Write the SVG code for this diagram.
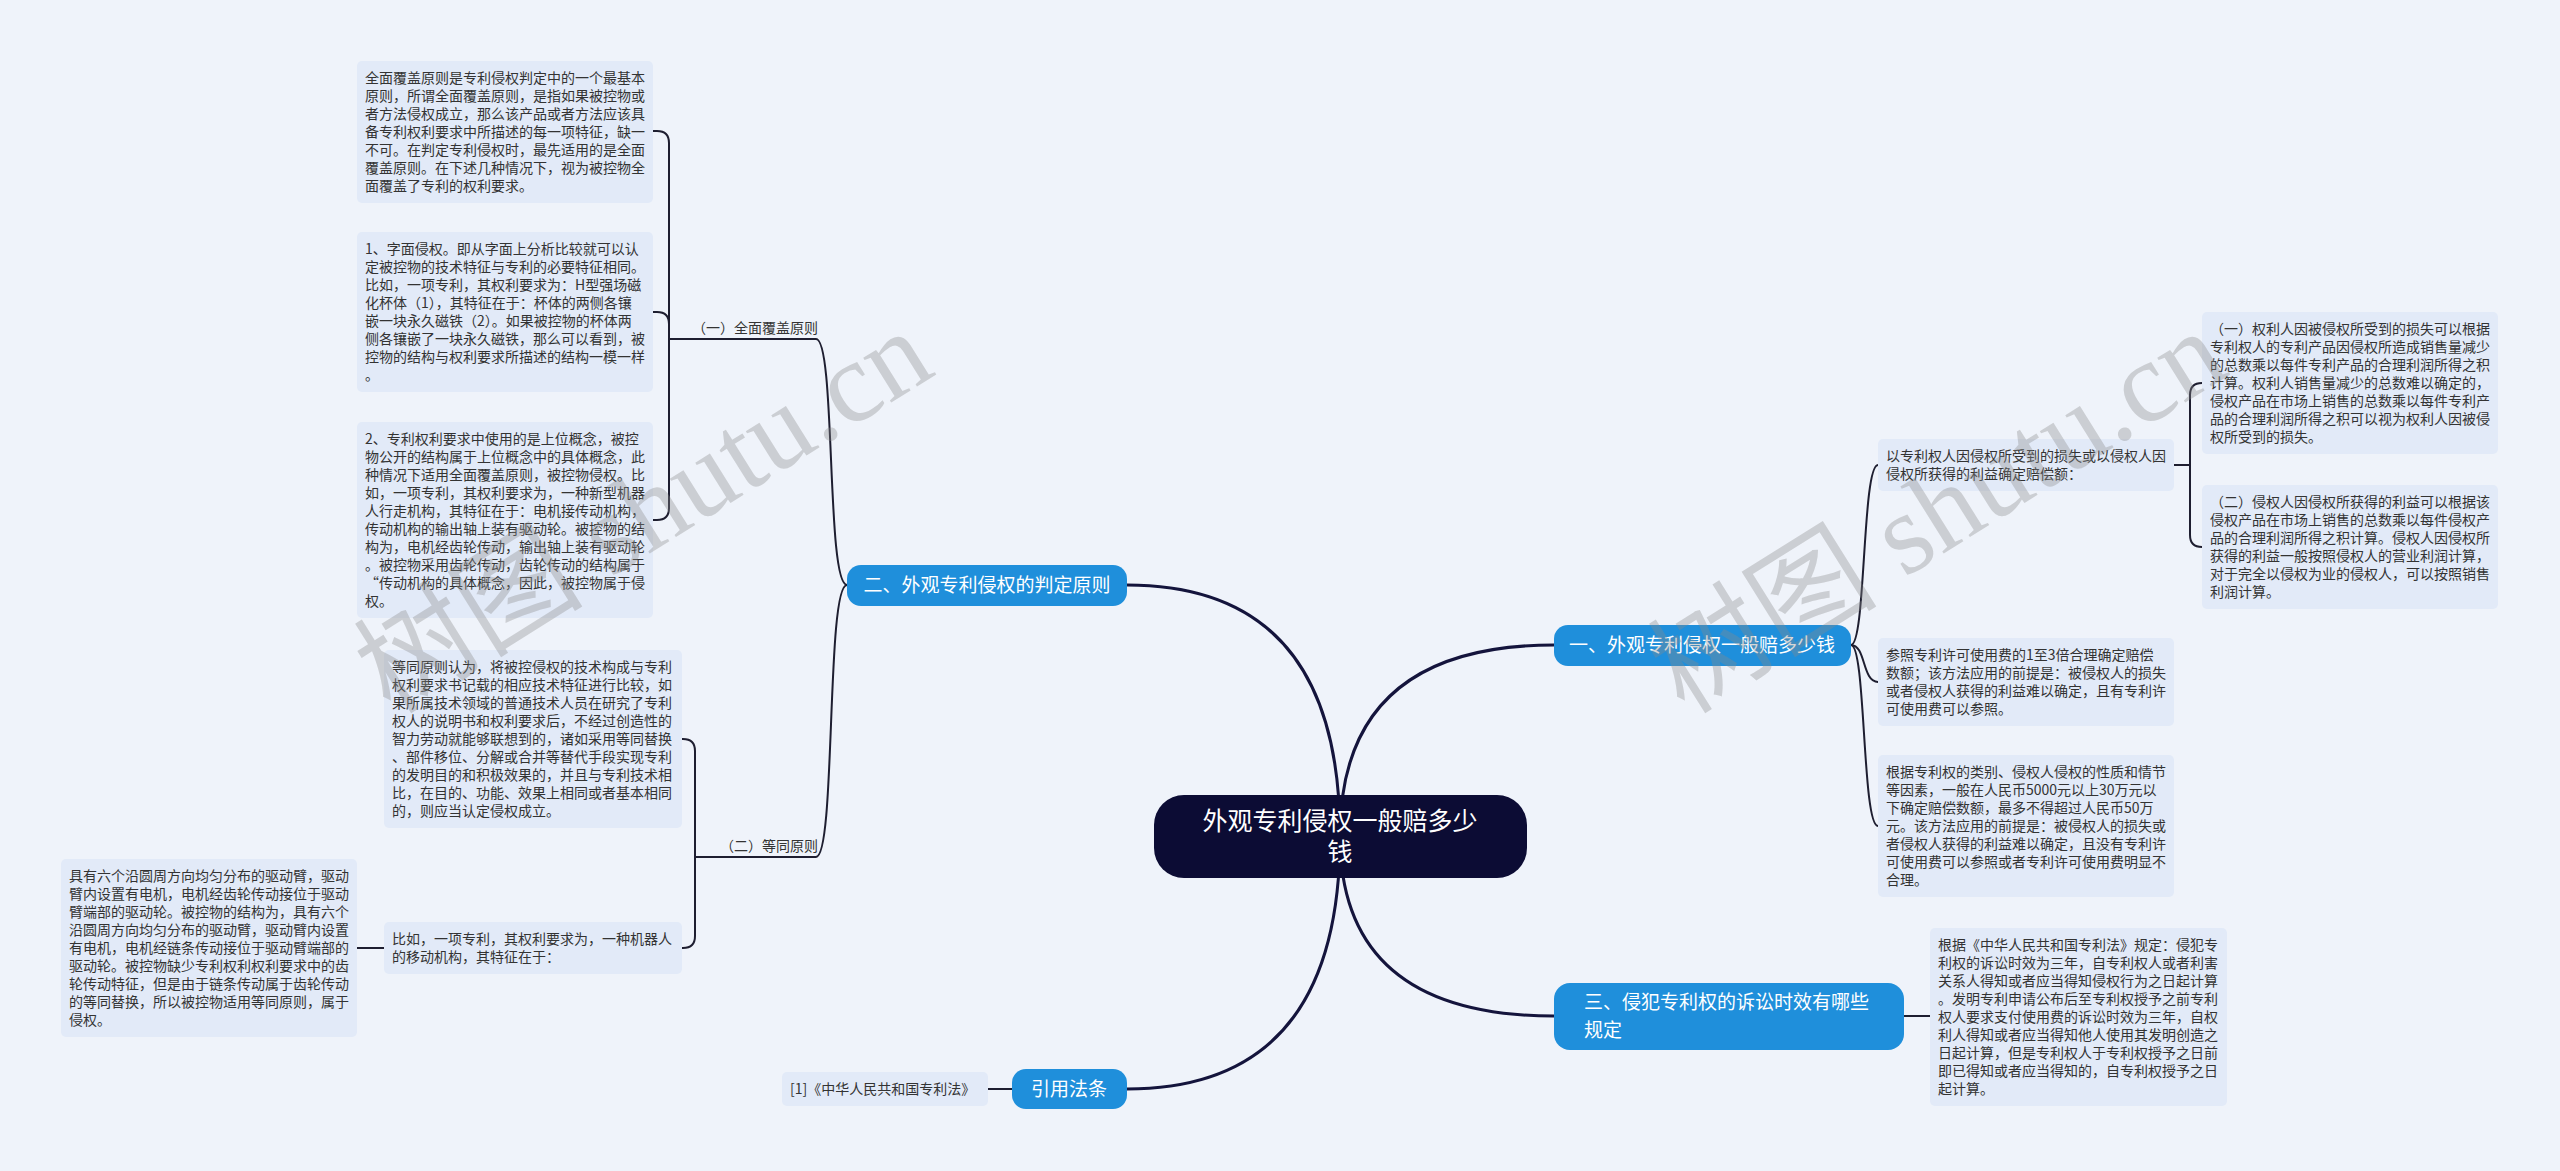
<svg xmlns="http://www.w3.org/2000/svg" width="2560" height="1171" viewBox="0 0 2560 1171">
<style>
.bg{fill:#eff3fa}
.box{fill:#e2eaf8}
.t{font-family:"Noto Sans CJK SC","Liberation Sans",sans-serif;font-size:14px;fill:#333}
.br{fill:#1f8fdb}
.bt{font-family:"Noto Sans CJK SC","Liberation Sans",sans-serif;font-size:19px;fill:#fff}
.ct{font-family:"Noto Sans CJK SC","Liberation Sans",sans-serif;font-size:25px;fill:#fff}
.c0{fill:none;stroke:#14143c;stroke-width:3}
.c1{fill:none;stroke:#1e1e30;stroke-width:2}
.wm{font-family:"Liberation Serif","Noto Sans CJK SC",serif;font-size:115px;fill:#8a8a8a;fill-opacity:0.35}
</style>
<rect class="bg" x="0" y="0" width="2560" height="1171"/>

<g id="connectors">
  <path class="c0" d="M1340,836 Q1340,585 1127,585"/>
  <path class="c0" d="M1340,836 Q1340,645 1554,645"/>
  <path class="c0" d="M1340,836 Q1340,1016 1554,1016"/>
  <path class="c0" d="M1340,836 Q1340,1089 1127,1089"/>
  <path class="c1" d="M847,585 C826,585 836,339 816,339 L669,339"/>
  <path class="c1" d="M847,585 C826,585 836,857 816,857 L695,857"/>
  <path class="c1" d="M669,339 L669,143 Q669,131 657,131 L653,131"/>
  <path class="c1" d="M669,339 L669,324 Q669,312 657,312 L653,312"/>
  <path class="c1" d="M669,339 L669,508 Q669,520 657,520 L653,520"/>
  <path class="c1" d="M695,857 L695,751 Q695,739 683,739 L682,739"/>
  <path class="c1" d="M695,857 L695,936 Q695,948 683,948 L682,948"/>
  <path class="c1" d="M384,948 L357,948"/>
  <path class="c1" d="M1851,645 C1866,645 1862,465 1878,465"/>
  <path class="c1" d="M1851,645 C1866,645 1862,682 1878,682"/>
  <path class="c1" d="M1851,645 C1866,645 1862,826 1878,826"/>
  <path class="c1" d="M2174,465 L2190,465 L2190,395 Q2190,383 2202,383"/>
  <path class="c1" d="M2174,465 L2190,465 L2190,535 Q2190,547 2202,547"/>
  <path class="c1" d="M1904,1016 L1930,1016"/>
  <path class="c1" d="M1012,1089 L988,1089"/>
</g>

<g id="center">
  <rect x="1154" y="795" width="373" height="83" rx="30" fill="#0c0c34"/>
  <text class="ct" text-anchor="middle"><tspan x="1340" y="830">外观专利侵权一般赔多少</tspan><tspan x="1340" y="861">钱</tspan></text>
</g>

<g id="b2">
  <rect class="br" x="847" y="565" width="280" height="41" rx="14"/>
  <text class="bt" x="987" y="592" text-anchor="middle">二、外观专利侵权的判定原则</text>
</g>
<g id="b1">
  <rect class="br" x="1554" y="625" width="297" height="41" rx="14"/>
  <text class="bt" x="1702" y="652" text-anchor="middle">一、外观专利侵权一般赔多少钱</text>
</g>
<g id="b3">
  <rect class="br" x="1554" y="983" width="350" height="67" rx="16"/>
  <text class="bt"><tspan x="1584" y="1009">三、侵犯专利权的诉讼时效有哪些</tspan><tspan x="1584" y="1037">规定</tspan></text>
</g>
<g id="b4">
  <rect class="br" x="1012" y="1069" width="115" height="40" rx="14"/>
  <text class="bt" x="1069" y="1096" text-anchor="middle">引用法条</text>
</g>

<g id="lab1">
  <text class="t" x="818" y="333" text-anchor="end">（一）全面覆盖原则</text>
</g>
<g id="lab2">
  <text class="t" x="818" y="851" text-anchor="end">（二）等同原则</text>
</g>

<g id="L1">
  <rect class="box" x="357" y="61" width="296" height="142" rx="5"/>
  <text class="t"><tspan x="365" y="83">全面覆盖原则是专利侵权判定中的一个最基本</tspan><tspan x="365" y="101">原则，所谓全面覆盖原则，是指如果被控物或</tspan><tspan x="365" y="119">者方法侵权成立，那么该产品或者方法应该具</tspan><tspan x="365" y="137">备专利权利要求中所描述的每一项特征，缺一</tspan><tspan x="365" y="155">不可。在判定专利侵权时，最先适用的是全面</tspan><tspan x="365" y="173">覆盖原则。在下述几种情况下，视为被控物全</tspan><tspan x="365" y="191">面覆盖了专利的权利要求。</tspan></text>
</g>
<g id="L2">
  <rect class="box" x="357" y="232" width="296" height="160" rx="5"/>
  <text class="t"><tspan x="365" y="254">1、字面侵权。即从字面上分析比较就可以认</tspan><tspan x="365" y="272">定被控物的技术特征与专利的必要特征相同。</tspan><tspan x="365" y="290">比如，一项专利，其权利要求为：H型强场磁</tspan><tspan x="365" y="308">化杯体（1），其特征在于：杯体的两侧各镶</tspan><tspan x="365" y="326">嵌一块永久磁铁（2）。如果被控物的杯体两</tspan><tspan x="365" y="344">侧各镶嵌了一块永久磁铁，那么可以看到，被</tspan><tspan x="365" y="362">控物的结构与权利要求所描述的结构一模一样</tspan><tspan x="365" y="380">。</tspan></text>
</g>
<g id="L3">
  <rect class="box" x="357" y="422" width="296" height="196" rx="5"/>
  <text class="t"><tspan x="365" y="444">2、专利权利要求中使用的是上位概念，被控</tspan><tspan x="365" y="462">物公开的结构属于上位概念中的具体概念，此</tspan><tspan x="365" y="480">种情况下适用全面覆盖原则，被控物侵权。比</tspan><tspan x="365" y="498">如，一项专利，其权利要求为，一种新型机器</tspan><tspan x="365" y="516">人行走机构，其特征在于：电机接传动机构，</tspan><tspan x="365" y="534">传动机构的输出轴上装有驱动轮。被控物的结</tspan><tspan x="365" y="552">构为，电机经齿轮传动，输出轴上装有驱动轮</tspan><tspan x="365" y="570">。被控物采用齿轮传动，齿轮传动的结构属于</tspan><tspan x="365" y="588">“传动机构的具体概念，因此，被控物属于侵</tspan><tspan x="365" y="606">权。</tspan></text>
</g>
<g id="L4">
  <rect class="box" x="384" y="650" width="298" height="178" rx="5"/>
  <text class="t"><tspan x="392" y="672">等同原则认为，将被控侵权的技术构成与专利</tspan><tspan x="392" y="690">权利要求书记载的相应技术特征进行比较，如</tspan><tspan x="392" y="708">果所属技术领域的普通技术人员在研究了专利</tspan><tspan x="392" y="726">权人的说明书和权利要求后，不经过创造性的</tspan><tspan x="392" y="744">智力劳动就能够联想到的，诸如采用等同替换</tspan><tspan x="392" y="762">、部件移位、分解或合并等替代手段实现专利</tspan><tspan x="392" y="780">的发明目的和积极效果的，并且与专利技术相</tspan><tspan x="392" y="798">比，在目的、功能、效果上相同或者基本相同</tspan><tspan x="392" y="816">的，则应当认定侵权成立。</tspan></text>
</g>
<g id="L6">
  <rect class="box" x="384" y="922" width="298" height="52" rx="5"/>
  <text class="t"><tspan x="392" y="944">比如，一项专利，其权利要求为，一种机器人</tspan><tspan x="392" y="962">的移动机构，其特征在于：</tspan></text>
</g>
<g id="L5">
  <rect class="box" x="61" y="859" width="296" height="178" rx="5"/>
  <text class="t"><tspan x="69" y="881">具有六个沿圆周方向均匀分布的驱动臂，驱动</tspan><tspan x="69" y="899">臂内设置有电机，电机经齿轮传动接位于驱动</tspan><tspan x="69" y="917">臂端部的驱动轮。被控物的结构为，具有六个</tspan><tspan x="69" y="935">沿圆周方向均匀分布的驱动臂，驱动臂内设置</tspan><tspan x="69" y="953">有电机，电机经链条传动接位于驱动臂端部的</tspan><tspan x="69" y="971">驱动轮。被控物缺少专利权利权利要求中的齿</tspan><tspan x="69" y="989">轮传动特征，但是由于链条传动属于齿轮传动</tspan><tspan x="69" y="1007">的等同替换，所以被控物适用等同原则，属于</tspan><tspan x="69" y="1025">侵权。</tspan></text>
</g>

<g id="R1">
  <rect class="box" x="1878" y="439" width="296" height="52" rx="5"/>
  <text class="t"><tspan x="1886" y="461">以专利权人因侵权所受到的损失或以侵权人因</tspan><tspan x="1886" y="479">侵权所获得的利益确定赔偿额：</tspan></text>
</g>
<g id="R1a">
  <rect class="box" x="2202" y="312" width="296" height="142" rx="5"/>
  <text class="t"><tspan x="2210" y="334">（一）权利人因被侵权所受到的损失可以根据</tspan><tspan x="2210" y="352">专利权人的专利产品因侵权所造成销售量减少</tspan><tspan x="2210" y="370">的总数乘以每件专利产品的合理利润所得之积</tspan><tspan x="2210" y="388">计算。权利人销售量减少的总数难以确定的，</tspan><tspan x="2210" y="406">侵权产品在市场上销售的总数乘以每件专利产</tspan><tspan x="2210" y="424">品的合理利润所得之积可以视为权利人因被侵</tspan><tspan x="2210" y="442">权所受到的损失。</tspan></text>
</g>
<g id="R1b">
  <rect class="box" x="2202" y="485" width="296" height="124" rx="5"/>
  <text class="t"><tspan x="2210" y="507">（二）侵权人因侵权所获得的利益可以根据该</tspan><tspan x="2210" y="525">侵权产品在市场上销售的总数乘以每件侵权产</tspan><tspan x="2210" y="543">品的合理利润所得之积计算。侵权人因侵权所</tspan><tspan x="2210" y="561">获得的利益一般按照侵权人的营业利润计算，</tspan><tspan x="2210" y="579">对于完全以侵权为业的侵权人，可以按照销售</tspan><tspan x="2210" y="597">利润计算。</tspan></text>
</g>
<g id="R2">
  <rect class="box" x="1878" y="638" width="296" height="88" rx="5"/>
  <text class="t"><tspan x="1886" y="660">参照专利许可使用费的1至3倍合理确定赔偿</tspan><tspan x="1886" y="678">数额；该方法应用的前提是：被侵权人的损失</tspan><tspan x="1886" y="696">或者侵权人获得的利益难以确定，且有专利许</tspan><tspan x="1886" y="714">可使用费可以参照。</tspan></text>
</g>
<g id="R3">
  <rect class="box" x="1878" y="755" width="296" height="142" rx="5"/>
  <text class="t"><tspan x="1886" y="777">根据专利权的类别、侵权人侵权的性质和情节</tspan><tspan x="1886" y="795">等因素，一般在人民币5000元以上30万元以</tspan><tspan x="1886" y="813">下确定赔偿数额，最多不得超过人民币50万</tspan><tspan x="1886" y="831">元。该方法应用的前提是：被侵权人的损失或</tspan><tspan x="1886" y="849">者侵权人获得的利益难以确定，且没有专利许</tspan><tspan x="1886" y="867">可使用费可以参照或者专利许可使用费明显不</tspan><tspan x="1886" y="885">合理。</tspan></text>
</g>
<g id="R4">
  <rect class="box" x="1930" y="928" width="297" height="178" rx="5"/>
  <text class="t"><tspan x="1938" y="950">根据《中华人民共和国专利法》规定：侵犯专</tspan><tspan x="1938" y="968">利权的诉讼时效为三年，自专利权人或者利害</tspan><tspan x="1938" y="986">关系人得知或者应当得知侵权行为之日起计算</tspan><tspan x="1938" y="1004">。发明专利申请公布后至专利权授予之前专利</tspan><tspan x="1938" y="1022">权人要求支付使用费的诉讼时效为三年，自权</tspan><tspan x="1938" y="1040">利人得知或者应当得知他人使用其发明创造之</tspan><tspan x="1938" y="1058">日起计算，但是专利权人于专利权授予之日前</tspan><tspan x="1938" y="1076">即已得知或者应当得知的，自专利权授予之日</tspan><tspan x="1938" y="1094">起计算。</tspan></text>
</g>
<g id="ref">
  <rect class="box" x="782" y="1072" width="206" height="34" rx="5"/>
  <text class="t" x="790" y="1094">[1]《中华人民共和国专利法》</text>
</g>

<g id="watermark">
  <text class="wm" x="645" y="550" text-anchor="middle" transform="rotate(-32 645 514)">树图 shutu.cn</text>
  <text class="wm" x="1939" y="550" text-anchor="middle" transform="rotate(-32 1939 514)">树图 shutu.cn</text>
</g>
</svg>
